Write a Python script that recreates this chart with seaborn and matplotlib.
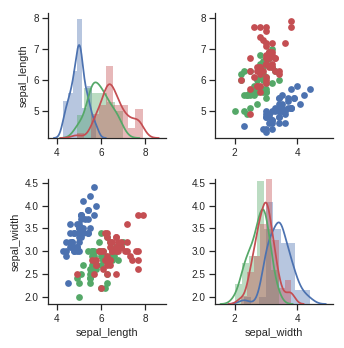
import numpy as np
import pandas as pd
import matplotlib
matplotlib.use("Agg")
import matplotlib.pyplot as plt
import seaborn as sns

# Fisher's iris: sepal measurements (cm) for the three species
species_names = ["setosa", "versicolor", "virginica"]

setosa_length = [5.1, 4.9, 4.7, 4.6, 5.0, 5.4, 4.6, 5.0, 4.4, 4.9, 5.4, 4.8, 4.8, 4.3, 5.8,
                 5.7, 5.4, 5.1, 5.7, 5.1, 5.4, 5.1, 4.6, 5.1, 4.8, 5.0, 5.0, 5.2, 5.2, 4.7,
                 4.8, 5.4, 5.2, 5.5, 4.9, 5.0, 5.5, 4.9, 4.4, 5.1, 5.0, 4.5, 4.4, 5.0, 5.1,
                 4.8, 5.1, 4.6, 5.3, 5.0]
setosa_width = [3.5, 3.0, 3.2, 3.1, 3.6, 3.9, 3.4, 3.4, 2.9, 3.1, 3.7, 3.4, 3.0, 3.0, 4.0,
                4.4, 3.9, 3.5, 3.8, 3.8, 3.4, 3.7, 3.6, 3.3, 3.4, 3.0, 3.4, 3.5, 3.4, 3.2,
                3.1, 3.4, 4.1, 4.2, 3.1, 3.2, 3.5, 3.6, 3.0, 3.4, 3.5, 2.3, 3.2, 3.5, 3.8,
                3.0, 3.8, 3.2, 3.7, 3.3]
versicolor_length = [7.0, 6.4, 6.9, 5.5, 6.5, 5.7, 6.3, 4.9, 6.6, 5.2, 5.0, 5.9, 6.0, 6.1, 5.6,
                     6.7, 5.6, 5.8, 6.2, 5.6, 5.9, 6.1, 6.3, 6.1, 6.4, 6.6, 6.8, 6.7, 6.0, 5.7,
                     5.5, 5.5, 5.8, 6.0, 5.4, 6.0, 6.7, 6.3, 5.6, 5.5, 5.5, 6.1, 5.8, 5.0, 5.6,
                     5.7, 5.7, 6.2, 5.1, 5.7]
versicolor_width = [3.2, 3.2, 3.1, 2.3, 2.8, 2.8, 3.3, 2.4, 2.9, 2.7, 2.0, 3.0, 2.2, 2.9, 2.9,
                    3.1, 3.0, 2.7, 2.2, 2.5, 3.2, 2.8, 2.5, 2.8, 2.9, 3.0, 2.8, 3.0, 2.9, 2.6,
                    2.4, 2.4, 2.7, 2.7, 3.0, 3.4, 3.1, 2.3, 3.0, 2.5, 2.6, 3.0, 2.6, 2.3, 2.7,
                    3.0, 2.9, 2.9, 2.5, 2.8]
virginica_length = [6.3, 5.8, 7.1, 6.3, 6.5, 7.6, 4.9, 7.3, 6.7, 7.2, 6.5, 6.4, 6.8, 5.7, 5.8,
                    6.4, 6.5, 7.7, 7.7, 6.0, 6.9, 5.6, 7.7, 6.3, 6.7, 7.2, 6.2, 6.1, 6.4, 7.2,
                    7.4, 7.9, 6.4, 6.3, 6.1, 7.7, 6.3, 6.4, 6.0, 6.9, 6.7, 6.9, 5.8, 6.8, 6.7,
                    6.7, 6.3, 6.5, 6.2, 5.9]
virginica_width = [3.3, 2.7, 3.0, 2.9, 3.0, 3.0, 2.5, 2.9, 2.5, 3.6, 3.2, 2.7, 3.0, 2.5, 2.8,
                   3.2, 3.0, 3.8, 2.6, 2.2, 3.2, 2.8, 2.8, 2.7, 3.3, 3.2, 2.8, 3.0, 2.8, 3.0,
                   2.8, 3.8, 2.8, 2.8, 2.6, 3.0, 3.4, 3.1, 3.0, 3.1, 3.1, 3.1, 2.7, 3.2, 3.3,
                   3.0, 2.5, 3.0, 3.4, 3.0]

species_colors = ["#4C72B0", "#55A868", "#C44E52"]

iris = pd.DataFrame({
    "sepal_length": setosa_length + versicolor_length + virginica_length,
    "sepal_width": setosa_width + versicolor_width + virginica_width,
    "species": np.repeat(species_names, 50),
})

sns.set_theme(style="ticks", context="notebook")
plt.rcParams["font.family"] = ["Liberation Sans", "DejaVu Sans"]
plt.rcParams["xtick.labelsize"] = 10
plt.rcParams["ytick.labelsize"] = 10
plt.rcParams["axes.labelsize"] = 11


def hist_kde(x, color=None, label=None, **kws):
    """Density histogram (Freedman-Diaconis bins) with a Gaussian KDE on top."""
    ax = plt.gca()
    x = np.asarray(x, dtype=float)
    q25, q75 = np.percentile(x, [25, 75])
    h = 2 * (q75 - q25) / len(x) ** (1 / 3)
    nbins = min(int(np.ceil((x.max() - x.min()) / h)), 50)
    ax.hist(x, bins=nbins, density=True, color=color, alpha=0.4,
            edgecolor="none", linewidth=0)
    # normal-reference bandwidth with a robust spread estimate
    sd = x.std(ddof=1)
    spread = min(sd, (q75 - q25) / 1.349)
    sns.kdeplot(x=x, ax=ax, color=color, bw_adjust=1.059 * spread / sd,
                cut=3, linewidth=1.75)


g = sns.PairGrid(iris, vars=["sepal_length", "sepal_width"], hue="species",
                 hue_order=species_names, palette=species_colors,
                 height=2.5, diag_sharey=True)
g.map_diag(hist_kde)
g.map_offdiag(plt.scatter, s=46, linewidths=0)

# diagonal density axes scaled from the first panel's histogram
top = max(p.get_height() for p in g.diag_axes[0].patches) * 1.05
for dax in g.diag_axes:
    dax.set_ylim(0, top)

xlims = [(3.62, 8.94), (1.38, 5.13)]
ylims = [(4.11, 8.16), (1.84, 4.575)]
for i in range(2):
    for j in range(2):
        ax = g.axes[i, j]
        ax.set_xlim(*xlims[j])
        ax.set_ylim(*ylims[i])
        ax.xaxis.set_tick_params(labelbottom=True)
        ax.yaxis.set_tick_params(labelleft=True)

g.axes[0, 0].set_xticks([4, 6, 8])
g.axes[0, 1].set_xticks([2, 4])
g.axes[0, 0].set_yticks([5, 6, 7, 8])
g.axes[1, 0].set_yticks([2.0, 2.5, 3.0, 3.5, 4.0, 4.5])
g.axes[1, 0].set_yticklabels(["2.0", "2.5", "3.0", "3.5", "4.0", "4.5"])
g.axes[1, 1].set_yticklabels(["2.0", "2.5", "3.0", "3.5", "4.0", "4.5"])
g.axes[0, 1].set_yticklabels(["5", "6", "7", "8"])

fig = g.figure
fig.set_size_inches(344 / 72, 348 / 72)
fig.subplots_adjust(left=0.1404, right=0.9672, top=0.9618, bottom=0.1264,
                    wspace=0.4225, hspace=0.331)
fig.savefig("out.png", dpi=72)
